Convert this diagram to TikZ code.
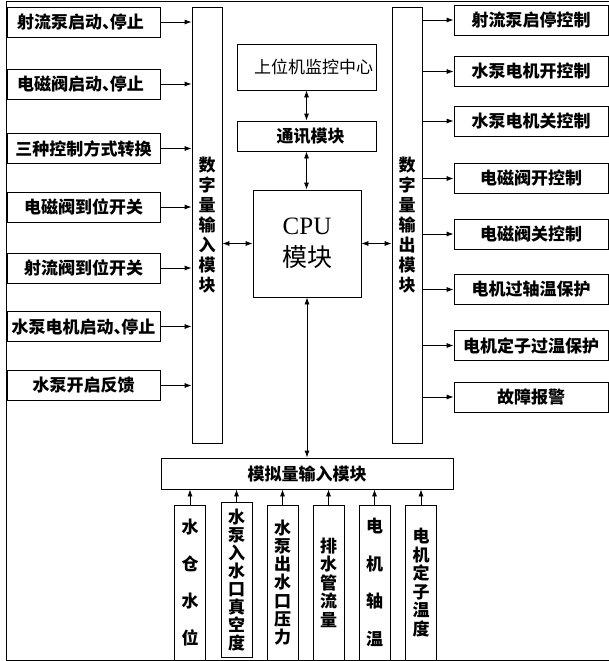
\documentclass[tikz,border=0pt]{standalone}
\usepackage{fontspec}
\setmainfont{Liberation Serif}
\newfontfamily\cjk{Noto Sans CJK SC}
\usetikzlibrary{arrows.meta}
\newcommand\halfdun{\makebox[0.45em][l]{、}}
\begin{document}
\begin{tikzpicture}[x=1pt,y=-1pt,
  box/.style={draw, line width=0.8pt, inner sep=0pt, align=center, font=\cjk\bfseries\fontsize{17}{20}\selectfont},
  hbox/.style={box, minimum height=30pt},
  vbox/.style={box, minimum width=31pt, minimum height=155pt},
  arr/.style={-{Latex[length=7pt,width=5pt]}, line width=0.8pt},
  darr/.style={{Latex[length=7pt,width=5pt]}-{Latex[length=7pt,width=5pt]}, line width=0.8pt}]
\useasboundingbox (0,0) rectangle (609,661);
\draw[line width=0.8pt] (609,1.5) -- (6,1.5) -- (6,660) -- (609,660);
% left inputs
\node[hbox, minimum width=153pt] (l1) at (83.5,22) {\hspace*{-6pt}射流泵启动\halfdun 停止};
\node[hbox, minimum width=153pt] (l2) at (83.5,84) {\hspace*{-6pt}电磁阀启动\halfdun 停止};
\node[hbox, minimum width=153pt] (l3) at (83.5,148.5) {三种控制方式转换};
\node[hbox, minimum width=153pt] (l4) at (83.5,207) {电磁阀到位开关};
\node[hbox, minimum width=153pt] (l5) at (83.5,268) {射流阀到位开关};
\node[hbox, minimum width=153pt] (l6) at (83.5,326.5) {水泵电机启动\halfdun 停止};
\node[hbox, minimum width=153pt] (l7) at (83.5,385.5) {水泵开启反馈};
% modules
\node[box, minimum width=30pt, minimum height=436pt] (in) at (207,225) {数\\字\\量\\输\\入\\模\\块};
\node[box, minimum width=30pt, minimum height=436pt] (out) at (407,225) {数\\字\\量\\输\\出\\模\\块};
% right outputs
\node[hbox, minimum width=154pt] (r1) at (531,20) {射流泵启停控制};
\node[hbox, minimum width=154pt] (r2) at (531,71.5) {水泵电机开控制};
\node[hbox, minimum width=154pt] (r3) at (531,121) {水泵电机关控制};
\node[hbox, minimum width=154pt] (r4) at (531,178.5) {电磁阀开控制};
\node[hbox, minimum width=154pt] (r5) at (531,234) {电磁阀关控制};
\node[hbox, minimum width=154pt] (r6) at (531,289.5) {电机过轴温保护};
\node[hbox, minimum width=154pt] (r7) at (531,345.5) {电机定子过温保护};
\node[hbox, minimum width=154pt] (r8) at (531,397) {故障报警};
% center
\node[box, font=\cjk\fontsize{17}{20}\selectfont, minimum width=139pt, minimum height=46pt] (sw) at (306.5,67) {\hspace*{14pt}上位机监控中心};
\node[hbox, minimum width=139pt] (tx) at (306.5,136) {\hspace*{8pt}通讯模块};
\node[box, minimum width=108pt, minimum height=107pt, font=\fontsize{25}{33}\selectfont] (cpu) at (307,243.5) {CPU\\[-1pt]{\cjk 模块}};
\node[box, minimum width=292pt, minimum height=31pt] (an) at (307,473.5) {模拟量输入模块};
% sensors
\node[vbox, font=\cjk\bfseries\fontsize{17}{37}\selectfont] (s1) at (190,582.5) {水\\仓\\水\\位};
\node[vbox, font=\cjk\bfseries\fontsize{17}{18}\selectfont] (s2) at (236.5,580) {水\\泵\\入\\水\\口\\真\\空\\度};
\node[vbox, font=\cjk\bfseries\fontsize{17}{18.3}\selectfont] (s3) at (282.5,582.5) {水\\泵\\出\\水\\口\\压\\力};
\node[vbox, font=\cjk\bfseries\fontsize{17}{18.5}\selectfont] (s4) at (328.5,582.5) {排\\水\\管\\流\\量};
\node[vbox, font=\cjk\bfseries\fontsize{17}{37.5}\selectfont] (s5) at (374.5,582.5) {电\\机\\轴\\温};
\node[vbox, font=\cjk\bfseries\fontsize{17}{18.6}\selectfont] (s6) at (421,582.5) {电\\机\\定\\子\\温\\度};
% connectors
\foreach \n in {l1,l2,l3,l4,l5,l6,l7} \draw[arr] (\n.east) -- (\n.east -| in.west);
\foreach \n in {r1,r2,r3,r4,r5,r6,r7,r8} \draw[arr] (\n.west -| out.east) -- (\n.west);
\draw[darr] (sw.south) -- (sw.south |- tx.north);
\draw[darr] (tx.south) -- (tx.south |- cpu.north);
\draw[darr] (cpu.west) -- (cpu.west -| in.east);
\draw[darr] (cpu.east) -- (cpu.east -| out.west);
\draw[darr] (cpu.south) -- (cpu.south |- an.north);
\foreach \n in {s1,s2,s3,s4,s5,s6} \draw[arr] (\n.north) -- (\n.north |- an.south);
\end{tikzpicture}
\end{document}
